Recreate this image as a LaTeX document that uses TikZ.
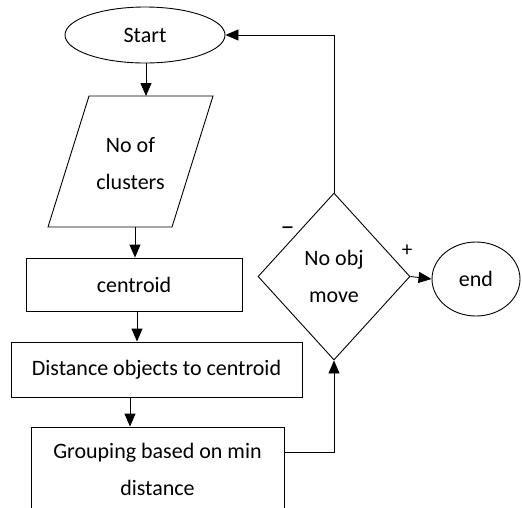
\documentclass[tikz,border=0pt]{standalone}
\usepackage{fontspec}
\setmainfont{Carlito}
\usetikzlibrary{shapes.geometric,arrows.meta,calc}
\begin{document}
\begin{tikzpicture}[x=1pt,y=-1pt,
  every node/.style={font=\fontsize{22}{37}\selectfont, align=center, inner sep=0pt},
  line/.style={draw=black, line width=0.9pt},
  arr/.style={line, -{Triangle[length=13pt,width=11pt]}},
  box/.style={line, rectangle},
  oval/.style={line, ellipse}
]
\useasboundingbox (0,0) rectangle (522,507);
% Start
\node[oval, minimum width=160pt, minimum height=56pt] (start) at (145,35) {Start};
% parallelogram
\coordinate (ptl) at (89,96);
\coordinate (ptr) at (213,96);
\coordinate (pbr) at (172,227);
\coordinate (pbl) at (48,227);
\draw[line] (ptl) -- (ptr) -- (pbr) -- (pbl) -- cycle;
\node (par) at (130.5,164) {No of\\clusters};
% boxes
\node[box, minimum width=216pt, minimum height=53pt] (cen) at (134,284.5) {centroid};
\node[box, minimum width=291pt, minimum height=55pt] (dist) at (156.5,369.5) {Distance objects to centroid};
\node[box, minimum width=253pt, minimum height=85pt, text depth=0pt] (grp) at (157.5,469.5) {Grouping based on min\\distance};
% diamond
\node[line, diamond, minimum width=152pt, minimum height=167pt] (dia) at (334,276.5) {No obj\\move};
% end
\node[oval, minimum width=88pt, minimum height=74pt] (end) at (476,279) {end};
% connectors
\draw[arr] (start.south -| 146,0) -- (146,96);
\draw[arr] (135,227) -- (cen.north -| 135,0);
\draw[arr] (cen.south -| 137,0) -- (dist.north -| 137,0);
\draw[arr] (dist.south -| 130,0) -- (grp.north -| 130,0);
\draw[arr] ([yshift=-26pt]grp.north east) -| (dia.south);
\draw[arr] (dia.north) |- (start.east);
\draw[arr] (dia.east) -- (end.west);
% labels
\node (minus) at (287.5,231) {\fontsize{28}{28}\selectfont –};
\node (plus) at (407,251) {\fontsize{21}{21}\selectfont +};
\end{tikzpicture}
\end{document}
